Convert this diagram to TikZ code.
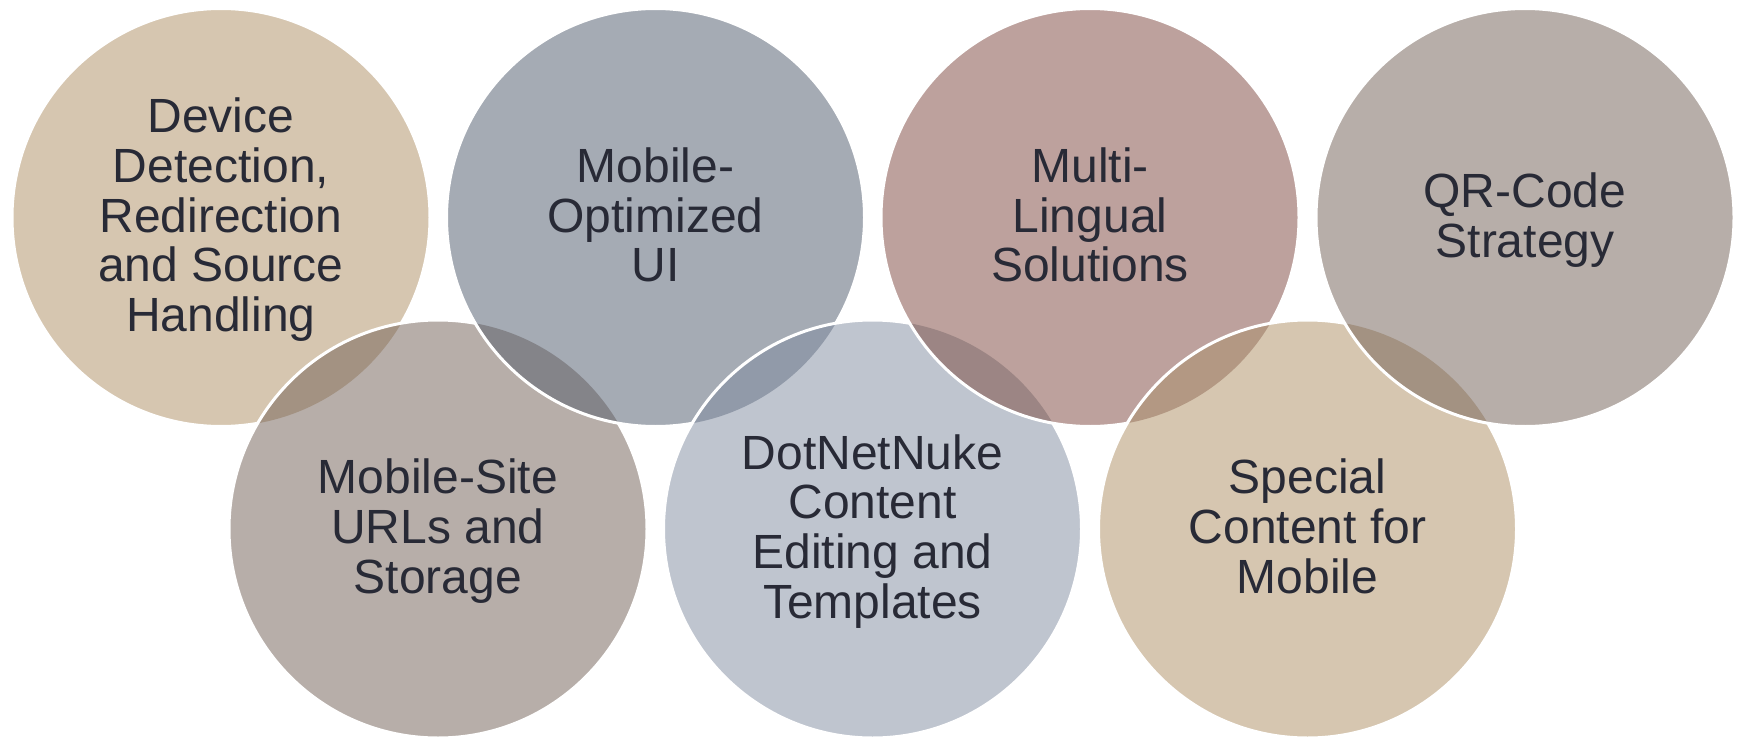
\documentclass[tikz,border=0pt]{standalone}
\usepackage{fontspec}
\setmainfont{Liberation Sans}

\definecolor{ink}{HTML}{282A36}
\definecolor{sand}{HTML}{D6C6B0}
\definecolor{slate}{HTML}{A5ABB4}
\definecolor{rose}{HTML}{BDA19D}
\definecolor{taupe}{HTML}{B7AEA9}
\definecolor{mist}{HTML}{BFC5CF}
%% overlap colours, in drawing order
\definecolor{ovA}{HTML}{A39282}
\definecolor{ovB}{HTML}{848489}
\definecolor{ovC}{HTML}{919AA9}
\definecolor{ovD}{HTML}{9C8584}
\definecolor{ovE}{HTML}{B39883}
\definecolor{ovF}{HTML}{A39282}

\tikzset{
  ringtext/.style={text=ink, align=center, inner sep=0pt,
    font=\fontsize{48}{49.7}\selectfont},
  rim/.style={draw=white, line width=3pt},
}
\newcommand{\tstrut}{\rule[-10.2pt]{0pt}{49.7pt}}

\begin{document}
\begin{tikzpicture}[x=1pt,y=-1pt]
    \useasboundingbox (0,0) rectangle (1739,738);
    %% Rings, zigzag from left to right, each one over the one before
    \foreach \x/\y/\c/\o [remember=\x as \px (initially 0),
                          remember=\y as \py (initially -2000)] in
        {221/217.5/sand/sand, 438/529/taupe/ovA, 655.5/217.5/slate/ovB,
         872.5/529/mist/ovC, 1090/217.5/rose/ovD, 1307.5/529/sand/ovE,
         1525/217.5/taupe/ovF}
    {
        \fill[\c] (\x,\y) circle (209pt);
        \begin{scope}
            \clip (\px,\py) circle (209pt);
            \fill[\o] (\x,\y) circle (209pt);
        \end{scope}
        \draw[rim] (\x,\y) circle (209pt);
    }
    %% Top row
    \node[ringtext] (detect) at (221,217.5)
        {\tstrut Device\\Detection,\\Redirection\\and Source\\Handling\tstrut};
    \node[ringtext] (mobui) at (655.5,217.5)
        {\tstrut Mobile-\\Optimized\\UI\tstrut};
    \node[ringtext] (lingual) at (1090,217.5)
        {\tstrut Multi-\\Lingual\\Solutions\tstrut};
    \node[ringtext] (qrcode) at (1525,217.5)
        {\tstrut QR-Code\\Strategy\tstrut};
    %% Bottom row
    \node[ringtext] (urls) at (438,529)
        {\tstrut Mobile-Site\\URLs and\\Storage\tstrut};
    \node[ringtext] (dnn) at (872.5,529)
        {\tstrut DotNetNuke\\Content\\Editing and\\Templates\tstrut};
    \node[ringtext] (special) at (1307.5,529)
        {\tstrut Special\\Content for\\Mobile\tstrut};
\end{tikzpicture}
\end{document}
